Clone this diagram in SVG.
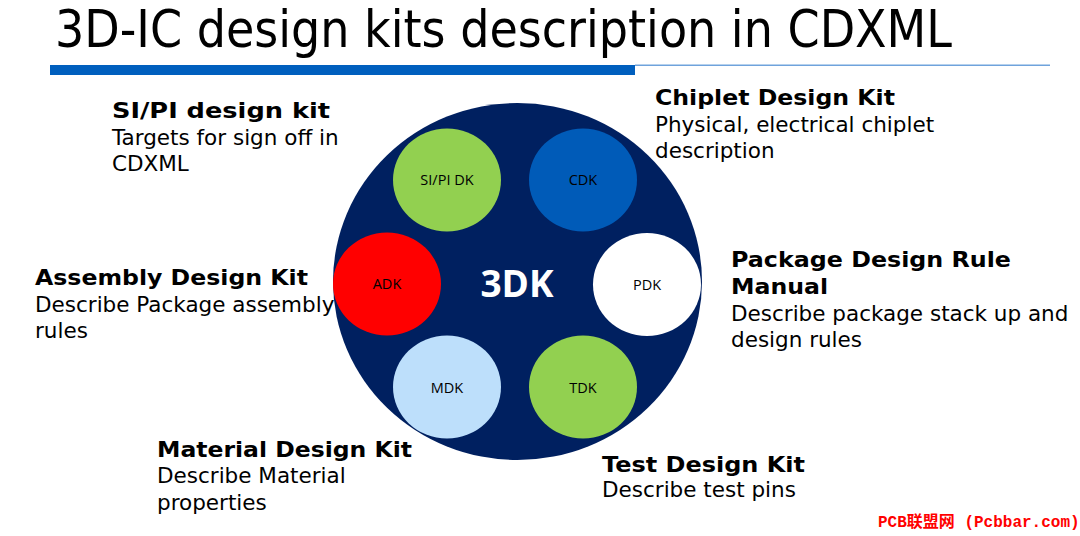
<svg xmlns="http://www.w3.org/2000/svg" width="1080" height="536" viewBox="0 0 1080 536">
<style>
.title{font-family:"DejaVu Sans Condensed","DejaVu Sans",sans-serif;font-size:51px;fill:#000}
.h{font-family:"DejaVu Sans","Verdana",sans-serif;font-weight:bold;font-size:21.5px;fill:#000}
.b{font-family:"DejaVu Sans","Verdana",sans-serif;font-size:21.5px;fill:#000}
.lbl{font-family:"Open Sans","Noto Sans",sans-serif;font-size:14.5px;fill:#000;text-anchor:middle}
.big{font-family:"Open Sans","Noto Sans",sans-serif;font-weight:bold;font-size:37px;fill:#fff;text-anchor:middle}
.wm{font-family:"Liberation Mono","Noto Sans CJK SC",monospace;font-size:16px;fill:#ff0000}
</style>
<rect width="1080" height="536" fill="#fff"/>
<text class="title" x="55" y="47" textLength="897" lengthAdjust="spacingAndGlyphs">3D-IC design kits description in CDXML</text>
<rect x="635" y="64.5" width="415" height="1.5" fill="#6fa3dc"/>
<rect x="50" y="65" width="585" height="10" fill="#005fbe"/>

<g id="hub">
<ellipse cx="517.5" cy="281.5" rx="184.5" ry="178.5" fill="#002060"/>
<text class="big" x="517" y="297">3DK</text>
</g>
<g id="sipi-dk">
<ellipse cx="447" cy="180" rx="54" ry="51.5" fill="#92d050"/>
<text class="lbl" x="447" y="185">SI/PI DK</text>
</g>
<g id="cdk">
<ellipse cx="583" cy="180" rx="54" ry="51.5" fill="#005bb8"/>
<text class="lbl" x="583" y="185">CDK</text>
</g>
<g id="adk">
<ellipse cx="387" cy="284" rx="54" ry="51.5" fill="#ff0000"/>
<text class="lbl" x="387" y="289">ADK</text>
</g>
<g id="pdk">
<ellipse cx="647" cy="284.5" rx="54" ry="51.5" fill="#ffffff"/>
<text class="lbl" x="647" y="290">PDK</text>
</g>
<g id="mdk">
<ellipse cx="447" cy="387" rx="54" ry="51.5" fill="#bddffb"/>
<text class="lbl" x="447" y="393">MDK</text>
</g>
<g id="tdk">
<ellipse cx="583" cy="387" rx="54" ry="51.5" fill="#92d050"/>
<text class="lbl" x="583" y="393">TDK</text>
</g>

<g id="connectors"></g>

<g id="sipi-text">
<text class="h" x="112" y="118" textLength="218" lengthAdjust="spacingAndGlyphs">SI/PI design kit</text>
<text class="b" x="112" y="145">Targets for sign off in</text>
<text class="b" x="112" y="171">CDXML</text>
</g>
<g id="chiplet-text">
<text class="h" x="655" y="105" textLength="240" lengthAdjust="spacingAndGlyphs">Chiplet Design Kit</text>
<text class="b" x="655" y="132">Physical, electrical chiplet</text>
<text class="b" x="655" y="158">description</text>
</g>
<g id="assembly-text">
<text class="h" x="35" y="285" textLength="273" lengthAdjust="spacingAndGlyphs">Assembly Design Kit</text>
<text class="b" x="35" y="312">Describe Package assembly</text>
<text class="b" x="35" y="338">rules</text>
</g>
<g id="package-text">
<text class="h" x="731" y="267" textLength="280" lengthAdjust="spacingAndGlyphs">Package Design Rule</text>
<text class="h" x="731" y="294" textLength="97" lengthAdjust="spacingAndGlyphs">Manual</text>
<text class="b" x="731" y="321">Describe package stack up and</text>
<text class="b" x="731" y="347">design rules</text>
</g>
<g id="material-text">
<text class="h" x="157" y="457" textLength="255" lengthAdjust="spacingAndGlyphs">Material Design Kit</text>
<text class="b" x="157" y="483">Describe Material</text>
<text class="b" x="157" y="510">properties</text>
</g>
<g id="test-text">
<text class="h" x="602" y="472" textLength="203" lengthAdjust="spacingAndGlyphs">Test Design Kit</text>
<text class="b" x="602" y="497">Describe test pins</text>
</g>
<text class="wm" x="878" y="527" font-weight="bold">PCB联盟网 (Pcbbar.com)</text>
</svg>
